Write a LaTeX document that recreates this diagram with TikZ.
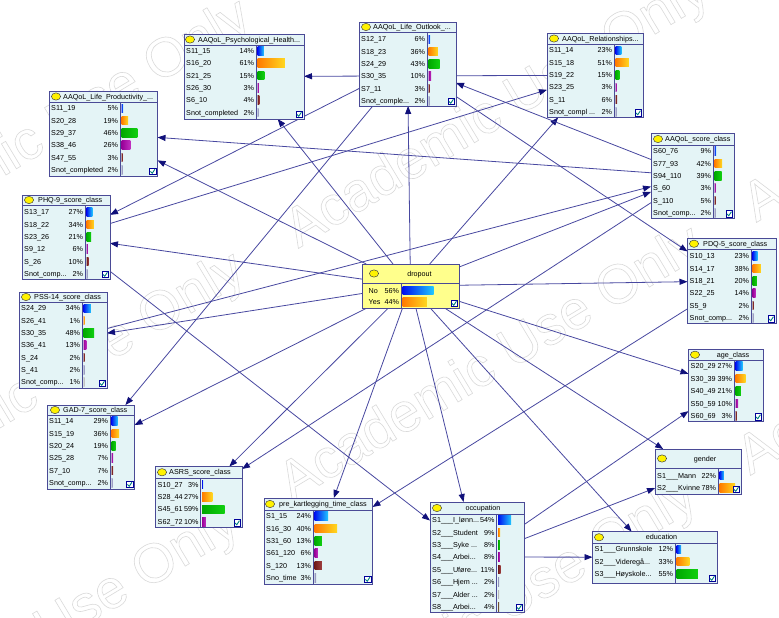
\documentclass[tikz,border=0pt]{standalone}
\usepackage{fontspec}
\setmainfont{Liberation Sans}
\usetikzlibrary{arrows.meta}
\pgfdeclarelayer{marks}
\pgfdeclarelayer{arcs}
\pgfsetlayers{marks,arcs,main}

\definecolor{boxfill}{HTML}{E4F4F6}
\definecolor{boxline}{HTML}{4A4A96}
\definecolor{dropfill}{HTML}{FFFF8C}
\definecolor{arccol}{HTML}{4848A0}
\definecolor{tipcol}{HTML}{10107A}
\definecolor{wmark}{HTML}{DADADA}
% bar colours: left and right end of each state's gradient
\definecolor{barL0}{HTML}{0010F0}\definecolor{barR0}{HTML}{20C8FF}
\definecolor{barL1}{HTML}{FF7A00}\definecolor{barR1}{HTML}{FFD820}
\definecolor{barL2}{HTML}{00A800}\definecolor{barR2}{HTML}{10D010}
\definecolor{barL3}{HTML}{980098}\definecolor{barR3}{HTML}{C030C0}
\definecolor{barL4}{HTML}{701818}\definecolor{barR4}{HTML}{A04040}
\definecolor{barL5}{HTML}{9090B8}\definecolor{barR5}{HTML}{B0B0D0}
\definecolor{barL6}{HTML}{B8B8B8}\definecolor{barR6}{HTML}{D0D0D0}
\definecolor{barL7}{HTML}{705030}\definecolor{barR7}{HTML}{907050}

\newcommand\dd{...}
% outlined lettering for the licence mark
\newcommand\outlinetext[1]{\special{pdf:literal direct 1 Tr 0.6 w}#1\special{pdf:literal direct 0 Tr}}

\pgfkeys{/bn/.is family, /bn/.cd,
  l/.store in=\bnL, t/.store in=\bnT, r/.store in=\bnR, b/.store in=\bnB,
  hb/.store in=\bnH, s/.store in=\bnS, y/.store in=\bnY, p/.store in=\bnP,
  fill/.store in=\bnF, tx/.store in=\bnTX, ta/.store in=\bnTA,
  cx/.store in=\bnCX, lx/.store in=\bnLX, bf/.store in=\bnBF}

\tikzset{
  bntext/.style={font=\fontsize{7.2}{8}\selectfont, inner sep=0pt, text=black},
  arcline/.style={draw=arccol, line width=0.8pt, -{Triangle[length=8pt,width=6pt,color=tipcol]}}
}

% one network node: name, geometry keys, title, list of label/percent
\newcommand\bnnode[4]{%
  \begingroup
  \pgfkeys{/bn/.cd, fill=boxfill, p=12.3, ta=base west, lx=2, bf=3, #2}%
  \pgfmathsetmacro\bnW{\bnR-\bnL}\pgfmathsetmacro\bnHt{\bnB-\bnT}%
  \node[minimum width=\bnW pt, minimum height=\bnHt pt, inner sep=0pt, outer sep=0pt]
     (#1) at ({(\bnL+\bnR)/2},{(\bnT+\bnB)/2}) {};
  \draw[boxline, line width=0.8pt, fill=\bnF] (\bnL,\bnT) rectangle (\bnR,\bnB);
  \draw[boxline, line width=0.8pt] (\bnL,\bnH) -- (\bnR,\bnH) (\bnS,\bnH) -- (\bnS,\bnB);
  \pgfmathsetmacro\bnHy{(\bnT+\bnH)/2}%
  \draw[fill=yellow, draw=black!75, line width=0.5pt] (\bnCX,\bnHy) ellipse [x radius=4.6, y radius=3.6];
  \node[bntext, anchor=\bnTA] at (\bnTX,\bnHy+2.6) {#3};
  \pgfmathsetmacro\bnBW{\bnR-\bnS-\bnBF}%
  \foreach \lab/\pct [count=\i from 0] in {#4} {
    \pgfmathsetmacro\yy{\bnY+\i*\bnP}
    \node[bntext, anchor=base west] at (\bnL+\bnLX,\yy+2.6) {\lab};
    \node[bntext, anchor=base east] at (\bnS-1.8,\yy+2.6) {\pct\%};
    \pgfmathsetmacro\bw{max(\pct/100*\bnBW,1.2)}
    \shade[left color=barL\i, right color=barR\i] (\bnS+1.5,\yy-4.3) rectangle ++(\bw,8.6);
  }
  \draw[fill=white, draw=blue!60!black, line width=0.4pt] (\bnR-8,\bnB-8) rectangle (\bnR-1.5,\bnB-1.5);
  \draw[teal, line width=0.9pt] (\bnR-7,\bnB-4.6) -- (\bnR-5.2,\bnB-2.8) -- (\bnR-2.6,\bnB-6.8);
  \endgroup}

\begin{document}
\begin{tikzpicture}[x=1pt, y=-1pt]
\useasboundingbox (0,0) rectangle (779,618);

\begin{pgfonlayer}{marks}
  \fill[white] (0,0) rectangle (779,618);
  \foreach \cx/\cy in {28/644, 492/365, 956/86, 34/391, 498/112, 40/138, 504/-141, 486/618, 950/339}
    \node[text=wmark, font=\fontsize{55}{60}\selectfont, rotate=31, inner sep=0pt]
      at (\cx,\cy) {\outlinetext{Academic Use Only}};
\end{pgfonlayer}

\bnnode{psych}{l=184,t=34,r=304,b=119,hb=45,s=256,y=51,cx=190,tx=198}
  {AAQoL\_Psychological\_Health...}
  {S11\_15/14, S16\_20/61, S21\_25/15, S26\_30/3, S6\_10/4, Snot\_completed/2}

\bnnode{outlook}{l=359,t=22,r=456,b=106,hb=32,s=427,y=39.4,cx=366,tx=373}
  {AAQoL\_Life\_Outlook\_...}
  {S12\_17/6, S18\_23/36, S24\_29/43, S30\_35/10, S7\_11/3, Snot\_comple\dd/2}

\bnnode{relat}{l=547,t=33,r=643,b=117.5,hb=44,s=614,y=50.4,cx=554,tx=562}
  {AAQoL\_Relationships...}
  {S11\_14/23, S15\_18/51, S19\_22/15, S23\_25/3, S\_11/6, Snot\_compl \dd/2}

\bnnode{prod}{l=49,t=91,r=157.5,b=176,hb=102,s=120,y=108.3,cx=56,tx=63}
  {AAQoL\_Life\_Productivity\_...}
  {S11\_19/5, S20\_28/19, S29\_37/46, S38\_46/26, S47\_55/3, Snot\_completed/2}

\bnnode{score}{l=651,t=133,r=734,b=218.5,hb=145,s=713,y=151,p=12.4,cx=658,tx=665}
  {AAQoL\_score\_class}
  {S60\_76/9, S77\_93/42, S94\_110/39, S\_60/3, S\_110/5, Snot\_comp\dd/2}

\bnnode{phq}{l=22,t=195,r=110,b=279,hb=205,s=85,y=212,p=12.4,cx=29,tx=38}
  {PHQ-9\_score\_class}
  {S13\_17/27, S18\_22/34, S23\_26/21, S9\_12/6, S\_26/10, Snot\_comp\dd/2}

\bnnode{pss}{l=19,t=292,r=107,b=388,hb=302,s=82,y=308.3,cx=26,tx=34}
  {PSS-14\_score\_class}
  {S24\_29/34, S26\_41/1, S30\_35/48, S36\_41/13, S\_24/2, S\_41/2, Snot\_comp\dd/1}

\bnnode{gad}{l=47,t=405,r=134.5,b=489,hb=415,s=110,y=421,p=12.4,cx=55,tx=63}
  {GAD-7\_score\_class}
  {S11\_14/29, S15\_19/36, S20\_24/19, S25\_28/7, S7\_10/7, Snot\_comp\dd/2}

\bnnode{pdq}{l=687.5,t=238.5,r=776,b=323.5,hb=249,s=751,y=256,p=12.4,cx=694,tx=703}
  {PDQ-5\_score\_class}
  {S10\_13/23, S14\_17/38, S18\_21/20, S22\_25/14, S5\_9/2, Snot\_comp\dd/2}

\bnnode{age}{l=688.5,t=349.5,r=763,b=421.5,hb=360,s=734,y=366,p=12.5,cx=695,tx=733,ta=base}
  {age\_class}
  {S20\_29/27, S30\_39/39, S40\_49/21, S50\_59/10, S60\_69/3}

\bnnode{gender}{l=655,t=449,r=741,b=494,hb=468,s=718,y=475.5,p=12.2,cx=662,tx=705,ta=base}
  {gender}
  {S1\_\_\_Mann/22, S2\_\_\_Kvinne/78}

\bnnode{asrs}{l=155.5,t=466.5,r=242,b=527.5,hb=478,s=200.5,y=484.5,p=12.4,cx=162,tx=169}
  {ASRS\_score\_class}
  {S10\_27/3, S28\_44/27, S45\_61/59, S62\_72/10}

\bnnode{prekart}{l=264,t=498,r=372.5,b=584,hb=510,s=313,y=516,p=12.4,cx=270,tx=279}
  {pre\_kartlegging\_time\_class}
  {S1\_15/24, S16\_30/40, S31\_60/13, S61\_120/6, S\_120/13, Sno\_time/3}

\bnnode{occ}{l=430,t=502,r=524,b=612,hb=514,s=496.5,y=520,p=12.4,cx=437,tx=483,ta=base}
  {occupation}
  {S1\_\_\_I\_lønn\dd/54, S2\_\_\_Student/9, S3\_\_\_Syke \dd/8, S4\_\_\_Arbei\dd/8,
   S5\_\_\_Uføre\dd/11, S6\_\_\_Hjem \dd/2, S7\_\_\_Alder \dd/2, S8\_\_\_Arbei\dd/4}

\bnnode{edu}{l=592.5,t=531.5,r=717,b=583,hb=543,s=675,y=549.3,p=12.3,cx=599,tx=661.5,ta=base}
  {education}
  {S1\_\_\_Grunnskole/12, S2\_\_\_Videregå\dd/33, S3\_\_\_Høyskole\dd/55}

\bnnode{dropout}{l=362,t=264,r=459,b=308,hb=283,s=401,y=290.5,p=11.3,cx=374,tx=419.5,ta=base,fill=dropfill,lx=6.5,bf=2.5}
  {dropout}
  {No/56, Yes/44}

\begin{pgfonlayer}{arcs}
  % the class node points at every attribute
  \foreach \child in {psych,outlook,relat,prod,score,phq,pss,gad,pdq,age,gender,asrs,prekart,occ,edu}
    \draw[arcline] (dropout) -- (\child);
  % tree among the attributes
  \draw[arcline] (pss) -- (score);
  \draw[arcline] (score) -- (outlook);
  \draw[arcline] (score) -- (prod);
  \draw[arcline] (score) -- (asrs);
  \draw[arcline] (outlook) -- (phq);
  \draw[arcline] (outlook) -- (gad);
  \draw[arcline] (outlook) -- (pdq);
  \draw[arcline] (phq) -- (relat);
  \draw[arcline] (phq) -- (occ);
  \draw[arcline] (relat) -- (psych);
  \draw[arcline] (pdq) -- (prekart);
  \draw[arcline] (occ) -- (age);
  \draw[arcline] (occ) -- (gender);
  \draw[arcline] (occ) -- (edu);
\end{pgfonlayer}
\end{tikzpicture}
\end{document}
